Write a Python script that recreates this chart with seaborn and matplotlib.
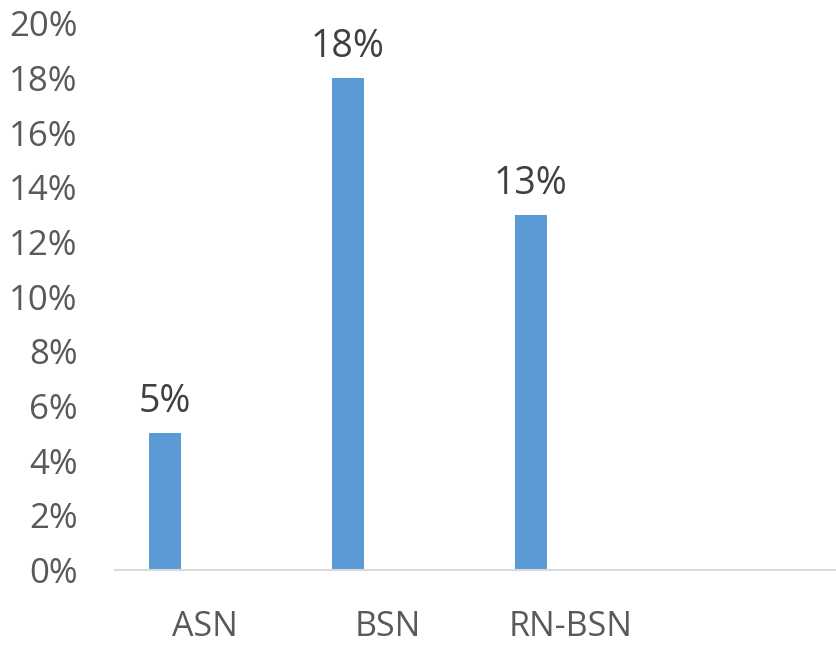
import matplotlib
matplotlib.use("Agg")
import matplotlib.pyplot as plt
import seaborn as sns
import pandas as pd

categories = ["ASN", "BSN", "RN-BSN"]
values = [0.05, 0.18, 0.13]
value_labels = ["5%", "18%", "13%"]
yticks = [0.0, 0.02, 0.04, 0.06, 0.08, 0.10, 0.12, 0.14, 0.16, 0.18, 0.20]
ytick_labels = ["0%", "2%", "4%", "6%", "8%", "10%", "12%", "14%", "16%", "18%", "20%"]

sns.set_style("white")
plt.rcParams['font.family'] = ['Open Sans', 'DejaVu Sans']

df = pd.DataFrame({"cat": categories, "val": values})

fig = plt.figure(figsize=(8.37, 6.45), dpi=100)
ax = fig.add_axes([115/837, 75/645, 722/837, 546.7/645])

sns.barplot(data=df, x="cat", y="val", order=categories, color="#5B9BD5",
            width=0.17, saturation=1, ax=ax)

shift = -40/183
for p in ax.patches:
    p.set_x(p.get_x() + shift)
    p.set_edgecolor("none")

for i, (v, lab) in enumerate(zip(values, value_labels)):
    ax.annotate(lab, xy=(i + shift, v), xytext=(0, 15), textcoords="offset points",
                ha="center", va="baseline", fontsize=27, color="#404040",
                annotation_clip=False)

ax.set_xlim(-0.492, 3.454)
ax.set_ylim(0, 0.20)
ax.set_yticks(yticks)
ax.set_yticklabels(ytick_labels)
ax.set_xlabel("")
ax.set_ylabel("")
ax.tick_params(axis="y", length=0, pad=27, labelsize=25, labelcolor="#595959")
ax.tick_params(axis="x", length=0, pad=29, labelsize=24.5, labelcolor="#595959")

for s in ["top", "right", "left"]:
    ax.spines[s].set_visible(False)
ax.spines["bottom"].set_color("#D9D9D9")
ax.spines["bottom"].set_linewidth(1.5)

fig.savefig("out.png", dpi=100)
